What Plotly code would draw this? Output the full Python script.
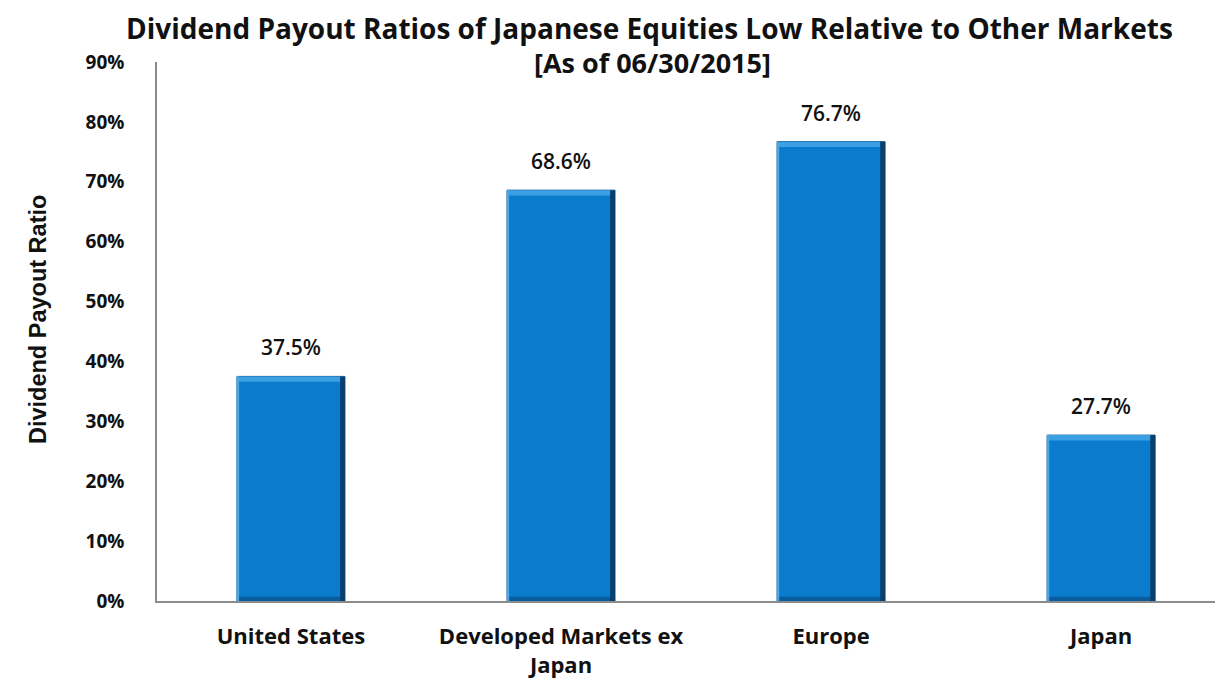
import plotly.graph_objects as go

categories = ["United States", "Developed Markets ex<br>Japan", "Europe", "Japan"]
values = [0.375, 0.686, 0.767, 0.277]
labels = ["37.5%", "68.6%", "76.7%", "27.7%"]
y_ticks = [0, 0.1, 0.2, 0.3, 0.4, 0.5, 0.6, 0.7, 0.8, 0.9]
y_tick_labels = ["0%", "10%", "20%", "30%", "40%", "50%", "60%", "70%", "80%", "90%"]
title_lines = ["Dividend Payout Ratios of Japanese Equities Low Relative to Other Markets",
               "[As of 06/30/2015]"]
y_title = "Dividend Payout Ratio"

font_main = "Open Sans, Lato, sans-serif"
x_pos = list(range(len(categories)))
BAR_W = 0.4
BEVEL = 0.009

fig = go.Figure()
# main bar face
fig.add_trace(go.Bar(
    x=x_pos, y=values, width=BAR_W,
    marker=dict(color="#0b7ccd", line=dict(color="#0a5a99", width=1)),
    hoverinfo="y",
))
# top light bevel
fig.add_trace(go.Bar(
    x=x_pos, y=[BEVEL] * len(values), base=[v - BEVEL for v in values], width=BAR_W,
    marker=dict(color="#3c9fe2", line=dict(width=0)), hoverinfo="skip",
))
# bottom dark bevel
fig.add_trace(go.Bar(
    x=x_pos, y=[BEVEL * 0.8] * len(values), base=[0] * len(values), width=BAR_W,
    marker=dict(color="#0a5c9c", line=dict(width=0)), hoverinfo="skip",
))
# right dark edge
fig.add_trace(go.Bar(
    x=x_pos, y=values, width=0.018, offset=BAR_W / 2 - 0.018,
    marker=dict(color="#0a3f6d", line=dict(width=0)), hoverinfo="skip",
))
# left light edge
fig.add_trace(go.Bar(
    x=x_pos, y=values, width=0.008, offset=-BAR_W / 2,
    marker=dict(color="#4aa8e6", line=dict(width=0)), hoverinfo="skip",
))

for xi, v, lab in zip(x_pos, values, labels):
    fig.add_annotation(x=xi, y=v, text=lab, showarrow=False, yanchor="bottom",
                       yshift=13,
                       font=dict(family=font_main, size=21, color="#111111", weight=600))

fig.add_annotation(
    xref="paper", yref="paper", x=0.459, y=1.0631, xanchor="center", yanchor="middle",
    text="<b>" + title_lines[0] + "</b>", showarrow=False,
    font=dict(family=font_main, size=28, color="#111111"),
)
fig.add_annotation(
    xref="paper", yref="paper", x=0.461, y=1.0, xanchor="center", yanchor="middle",
    text="<b>" + title_lines[1] + "</b>", showarrow=False,
    font=dict(family=font_main, size=27, color="#111111"),
)
fig.add_annotation(
    xref="paper", yref="paper", x=-0.1108, y=0.5213, xanchor="center", yanchor="middle",
    text="<b>" + y_title + "</b>", textangle=-90, showarrow=False,
    font=dict(family="Liberation Sans, Arial, sans-serif", size=23.5, color="#111111"),
)

fig.update_layout(
    width=1223, height=680,
    paper_bgcolor="white", plot_bgcolor="white",
    margin=dict(l=149, r=0, t=54, b=87),
    showlegend=False,
    barmode="overlay",
)
fig.update_xaxes(
    range=[-0.496, 3.481],
    tickmode="array", tickvals=x_pos,
    ticktext=["<b>" + c.replace("<br>", "</b><br><b>") + "</b>" for c in categories],
    tickfont=dict(family=font_main, size=22, color="#111111"),
    showline=True, linecolor="#8c8c8c", linewidth=1.5,
    showgrid=False, ticks="", zeroline=False,
    ticklabelstandoff=15,
)
fig.update_yaxes(
    range=[0, 0.9],
    tickmode="array", tickvals=y_ticks,
    ticktext=["<b>" + t + "</b>" for t in y_tick_labels],
    tickfont=dict(family=font_main, size=19, color="#111111"),
    showline=True, linecolor="#8c8c8c", linewidth=1.5,
    showgrid=False, ticks="", zeroline=False,
    ticklabelstandoff=27,
)

fig.write_html("out.html")
